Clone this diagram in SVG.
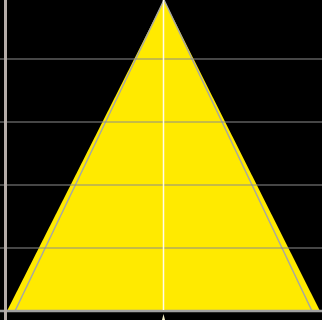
<svg xmlns="http://www.w3.org/2000/svg" width="322" height="320" viewBox="0 0 322 320">
<style>
.grid{stroke:#8c8c8c;stroke-width:1.2;}
</style>
<rect x="0" y="0" width="322" height="320" fill="#000"/>
<g id="triangle">
<polygon points="164,0 7,311 320,311" fill="#ffea00"/>
<polyline points="15,311 164,0 312,311" fill="none" stroke="#a8a8a0" stroke-width="1.5"/>
</g>
<g id="gridlines">
<line class="grid" x1="0" y1="59" x2="322" y2="59"/>
<line class="grid" x1="0" y1="122" x2="322" y2="122"/>
<line class="grid" x1="0" y1="185" x2="322" y2="185"/>
<line class="grid" x1="0" y1="248" x2="322" y2="248"/>
</g>
<g id="axes">
<line x1="0" y1="311" x2="322" y2="311" stroke="#a0a0a0" stroke-width="2.5"/>
<line x1="5.5" y1="0" x2="5.5" y2="320" stroke="#b5aca8" stroke-width="3"/>
<line x1="163.5" y1="0" x2="163.5" y2="310" stroke="#fffbe8" stroke-width="1.5"/>
<polygon points="163.5,314 162,320 165,320" fill="#f4efc8"/>
</g>
</svg>
